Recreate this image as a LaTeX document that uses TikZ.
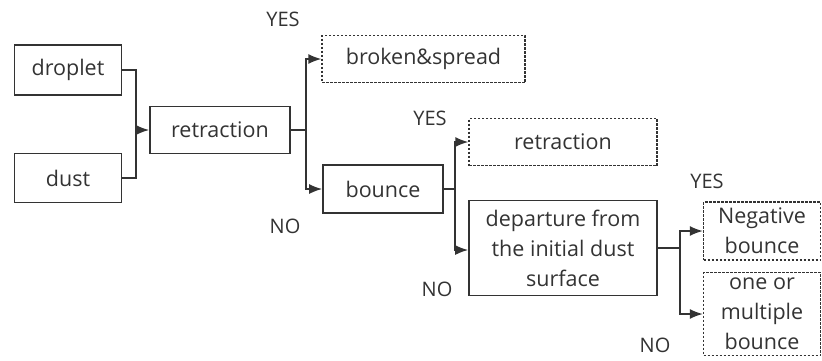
\documentclass[tikz,border=0pt]{standalone}
\usepackage{fontspec}
\usetikzlibrary{arrows.meta}
\setmainfont{Open Sans}
\definecolor{ink}{HTML}{333333}
\begin{document}
\begin{tikzpicture}[x=1pt, y=-1pt, >={Latex[length=13pt, width=10pt]},
    block/.style={rectangle, draw=ink, line width=1.6pt, inner sep=0pt,
      align=center, text=ink, font=\fontsize{21.5}{30}\selectfont},
    result/.style={block, dashed, dash pattern=on 2.5pt off 1.5pt, line width=1.3pt},
    answer/.style={text=ink, font=\fontsize{20}{24}\selectfont, inner sep=0pt}]
    \useasboundingbox (0,0) rectangle (822,360);
    \begin{scope}[every node/.style={block}]
      \node [minimum width=107, minimum height=50] (droplet) at (68,70) {droplet};
      \node [minimum width=107, minimum height=49] (dust) at (68,178) {dust};
      \node [minimum width=140, minimum height=47] (retr) at (220,130) {retraction};
      \node [minimum width=120, minimum height=48] (bounce) at (383,189) {bounce};
      \node [minimum width=188, minimum height=95] (depart) at (563,248)
        {departure from\\the initial dust\\surface};
    \end{scope}
    \begin{scope}[every node/.style={result}]
      \node [minimum width=203, minimum height=47] (broken) at (423.5,59) {broken\&spread};
      \node [minimum width=188, minimum height=47] (retrb) at (563,142) {retraction};
      \node [minimum width=117, minimum height=58] (neg) at (762,231) {Negative\\bounce};
      \node [minimum width=117, minimum height=83] (multi) at (762,314)
        {one or\\multiple\\bounce};
    \end{scope}
    \begin{scope}[every node/.style={answer}]
      \node (yes1) at (283,19) {YES}; \node (no1) at (285,226) {NO};
      \node (yes2) at (430,118) {YES}; \node (no2) at (437,289) {NO};
      \node (yes3) at (707,181) {YES}; \node (no3) at (655,345) {NO};
    \end{scope}
    \coordinate (j1) at (136,130); \coordinate (j2) at (306,130);
    \coordinate (j3) at (455,189); \coordinate (j4) at (680,248);
    \begin{scope}[draw=ink, line width=1.6pt]
      \draw (droplet) -| (j1); \draw (dust) -| (j1);
      \draw [->] (j1) -- (retr);
      \draw (retr) -- (j2); \draw [->] (j2) |- (broken);
      \draw [->] (j2) |- (bounce);
      \draw (bounce) -- (j3); \draw [->] (j3) |- (retrb);
      \draw [->] (j3) |- (depart.west |- 0,250);
      \draw (depart) -- (j4); \draw [->] (j4) |- (neg);
      \draw [->] (j4) |- (multi);
    \end{scope}
  \end{tikzpicture}
\end{document}
